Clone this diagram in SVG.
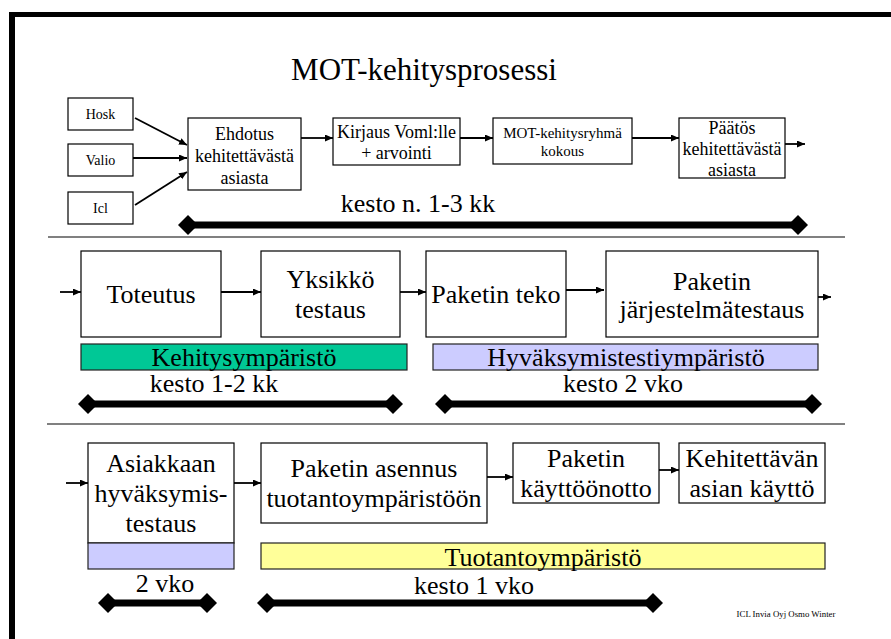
<svg xmlns="http://www.w3.org/2000/svg" width="891" height="639" viewBox="0 0 891 639">
  <defs>
    <style>
      text { font-family: "Liberation Serif", "Times New Roman", serif; fill: #000; text-anchor: middle; }
      .box { fill: #fff; stroke: #000; stroke-width: 1.2; }
      .flow { fill: none; stroke: #000; stroke-width: 1.8; marker-end: url(#arrow); }
      .span { fill: none; stroke: #000; stroke-width: 7; }
      .diamond { fill: #000; }
      .sep { stroke: #808080; stroke-width: 2; }
      .env { stroke: #222; stroke-width: 1.2; }
      .s14 { font-size: 14px; }
      .s15 { font-size: 15px; }
      .s18 { font-size: 18px; }
      .s26 { font-size: 26px; }
    </style>
    <marker id="arrow" markerUnits="userSpaceOnUse" markerWidth="9" markerHeight="8" refX="8" refY="3.5" orient="auto">
      <path d="M0,0 L8,3.5 L0,7 z" fill="#000"/>
    </marker>
    <path id="dia" d="M-10,0 L0,-10 L10,0 L0,10 z" class="diamond"/>
  </defs>

  <!-- slide frame -->
  <rect x="9" y="12" width="882" height="5" fill="#000"/>
  <rect x="9" y="12" width="6" height="627" fill="#000"/>

  <!-- title -->
  <text x="424" y="80" style="font-size:31px">MOT-kehitysprosessi</text>

  <!-- section separators -->
  <line class="sep" x1="48" y1="237" x2="845" y2="237"/>
  <line class="sep" x1="47" y1="424" x2="845" y2="424" stroke="#333"/>

  <!-- connectors -->
  <g id="connectors">
    <line class="flow" x1="135" y1="118" x2="187" y2="145"/>
    <line class="flow" x1="133" y1="158" x2="187" y2="158"/>
    <line class="flow" x1="135" y1="205" x2="187" y2="172"/>
    <line class="flow" x1="301" y1="138" x2="333" y2="138"/>
    <line class="flow" x1="460" y1="138" x2="493" y2="138"/>
    <line class="flow" x1="632" y1="138" x2="679" y2="138"/>
    <line class="flow" x1="785" y1="144" x2="805" y2="144"/>

    <line class="flow" x1="60" y1="292" x2="81" y2="292"/>
    <line class="flow" x1="221" y1="292" x2="261" y2="292"/>
    <line class="flow" x1="400" y1="292" x2="426" y2="292"/>
    <line class="flow" x1="566" y1="290" x2="604" y2="290"/>
    <line class="flow" x1="818" y1="297" x2="831" y2="297"/>

    <line class="flow" x1="66" y1="483" x2="88" y2="483"/>
    <line class="flow" x1="234" y1="483" x2="261" y2="483"/>
    <line class="flow" x1="487" y1="477" x2="513" y2="477"/>
    <line class="flow" x1="659" y1="470" x2="679" y2="470"/>
  </g>

  <!-- top row: proposal handling -->
  <g id="hosk">
    <rect class="box" x="68" y="98" width="65" height="32"/>
    <text class="s14" x="100.5" y="119">Hosk</text>
  </g>
  <g id="valio">
    <rect class="box" x="68" y="144" width="65" height="32"/>
    <text class="s14" x="100.5" y="165">Valio</text>
  </g>
  <g id="icl">
    <rect class="box" x="68" y="192" width="65" height="32"/>
    <text class="s14" x="100.5" y="213">Icl</text>
  </g>
  <g id="ehdotus">
    <rect class="box" x="188" y="118" width="113" height="72"/>
    <text class="s18" x="244.5" y="140">Ehdotus</text>
    <text class="s18" x="244.5" y="162">kehitettävästä</text>
    <text class="s18" x="244.5" y="184">asiasta</text>
  </g>
  <g id="kirjaus">
    <rect class="box" x="333" y="118" width="127" height="47"/>
    <text class="s18" x="396.5" y="138">Kirjaus Voml:lle</text>
    <text class="s18" x="396.5" y="159">+ arvointi</text>
  </g>
  <g id="kokous">
    <rect class="box" x="493" y="118" width="139" height="46"/>
    <text class="s15" x="562.5" y="138">MOT-kehitysryhmä</text>
    <text class="s15" x="562.5" y="156">kokous</text>
  </g>
  <g id="paatos">
    <rect class="box" x="679" y="118" width="106" height="60"/>
    <text class="s18" x="732" y="134">Päätös</text>
    <text class="s18" x="732" y="155">kehitettävästä</text>
    <text class="s18" x="732" y="176">asiasta</text>
  </g>
  <g id="kesto-top">
    <text class="s26" x="418" y="212">kesto n. 1-3 kk</text>
    <line class="span" x1="188" y1="225" x2="798" y2="225"/>
    <use href="#dia" x="188" y="225"/>
    <use href="#dia" x="798" y="225"/>
  </g>

  <!-- middle row: development and acceptance testing -->
  <g id="toteutus">
    <rect class="box" x="81" y="251" width="140" height="86"/>
    <text class="s26" x="151" y="303">Toteutus</text>
  </g>
  <g id="yksikko">
    <rect class="box" x="261" y="251" width="139" height="86"/>
    <text class="s26" x="330.5" y="288">Yksikkö</text>
    <text class="s26" x="330.5" y="318">testaus</text>
  </g>
  <g id="paketin-teko">
    <rect class="box" x="426" y="251" width="140" height="86"/>
    <text class="s26" x="496" y="303">Paketin teko</text>
  </g>
  <g id="jarjestelmatestaus">
    <rect class="box" x="606" y="251" width="212" height="86"/>
    <text class="s26" x="712" y="290">Paketin</text>
    <text class="s26" x="712" y="318">järjestelmätestaus</text>
  </g>
  <g id="kehitysymparisto">
    <rect class="env" x="81" y="344" width="326" height="26" fill="#00C896"/>
    <text class="s26" x="244" y="366">Kehitysympäristö</text>
  </g>
  <g id="hyvaksymisymparisto">
    <rect class="env" x="433" y="344" width="385" height="26" fill="#CCCCFF"/>
    <text class="s26" x="626" y="366">Hyväksymistestiympäristö</text>
  </g>
  <g id="kesto-mid">
    <text class="s26" x="214" y="392">kesto 1-2 kk</text>
    <line class="span" x1="88" y1="404" x2="393" y2="404"/>
    <use href="#dia" x="88" y="404"/>
    <use href="#dia" x="393" y="404"/>
    <text class="s26" x="623" y="392">kesto 2 vko</text>
    <line class="span" x1="445" y1="404" x2="812" y2="404"/>
    <use href="#dia" x="445" y="404"/>
    <use href="#dia" x="812" y="404"/>
  </g>

  <!-- bottom row: customer acceptance and production -->
  <g id="asiakas">
    <rect class="box" x="88" y="443" width="146" height="100"/>
    <rect class="env" x="88" y="543" width="146" height="26" fill="#CCCCFF"/>
    <text class="s26" x="161" y="472">Asiakkaan</text>
    <text class="s26" x="161" y="502">hyväksymis-</text>
    <text class="s26" x="161" y="532">testaus</text>
  </g>
  <g id="asennus">
    <rect class="box" x="261" y="443" width="226" height="80"/>
    <text class="s26" x="374" y="477">Paketin asennus</text>
    <text class="s26" x="374" y="507">tuotantoympäristöön</text>
  </g>
  <g id="kayttoonotto">
    <rect class="box" x="513" y="443" width="146" height="60"/>
    <text class="s26" x="586" y="467">Paketin</text>
    <text class="s26" x="586" y="497">käyttöönotto</text>
  </g>
  <g id="kaytto">
    <rect class="box" x="679" y="443" width="146" height="60"/>
    <text class="s26" x="752" y="467">Kehitettävän</text>
    <text class="s26" x="752" y="497">asian käyttö</text>
  </g>
  <g id="tuotantoymparisto">
    <rect class="env" x="261" y="543" width="564" height="26" fill="#FFFF99"/>
    <text class="s26" x="543" y="566">Tuotantoympäristö</text>
  </g>
  <g id="kesto-bottom">
    <text class="s26" x="165" y="592">2 vko</text>
    <line class="span" x1="108" y1="603" x2="207" y2="603"/>
    <use href="#dia" x="108" y="603"/>
    <use href="#dia" x="207" y="603"/>
    <text class="s26" x="474" y="594">kesto 1 vko</text>
    <line class="span" x1="267" y1="603" x2="653" y2="603"/>
    <use href="#dia" x="267" y="603"/>
    <use href="#dia" x="653" y="603"/>
  </g>

  <text x="786" y="617" style="font-size:8.8px">ICL Invia Oyj Osmo Winter</text>
</svg>
